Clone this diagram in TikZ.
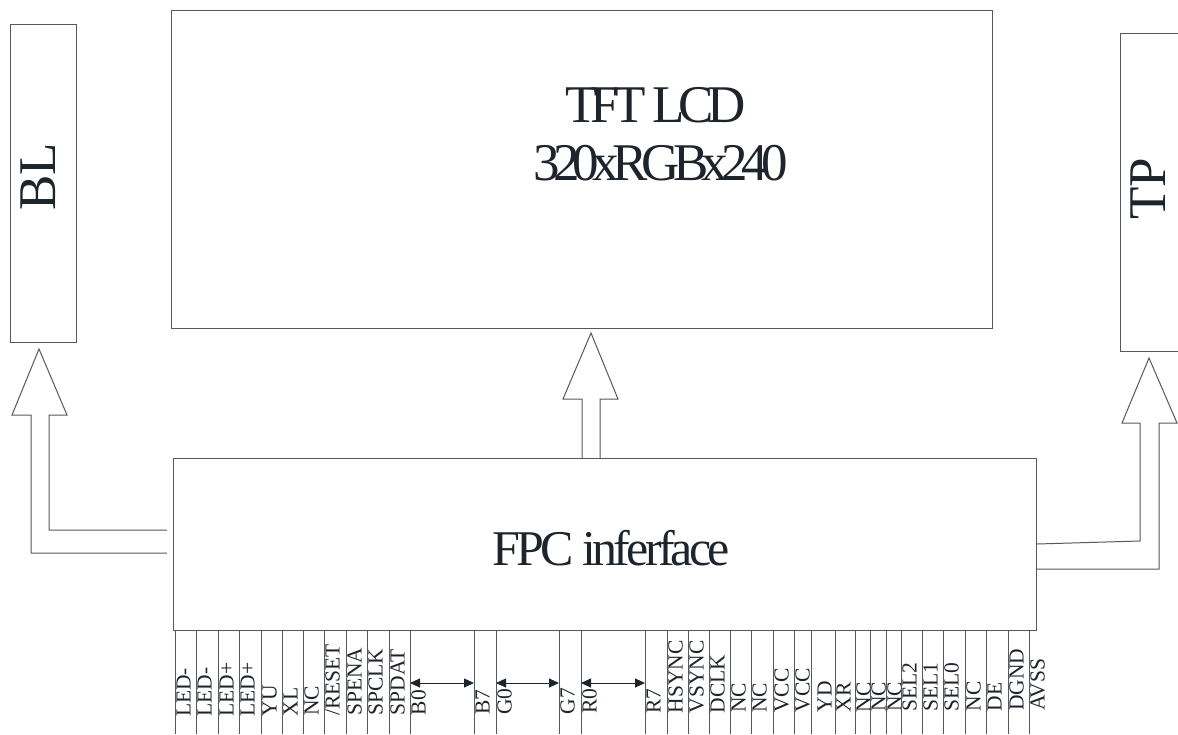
\documentclass[tikz,border=0pt]{standalone}
\usepackage{fontspec}
\setmainfont{Liberation Serif}
\newfontfamily\titlefont{Liberation Serif}[LetterSpace=-12.5]
\newfontfamily\fpcfont{Liberation Serif}[LetterSpace=-7.5]
\usetikzlibrary{arrows.meta,calc}
\definecolor{ink}{RGB}{30,36,44}
\definecolor{edge}{RGB}{85,88,94}
\tikzset{
  box/.style={draw=edge, line width=1pt, rectangle, inner sep=0pt, outer sep=0pt, anchor=north west},
  blockarrow/.style={draw=edge, line width=1pt, line join=miter},
  pinline/.style={draw=edge, line width=1pt},
  pinlabel/.style={text=ink, font=\fontsize{21.5}{24}\selectfont, rotate=90, anchor=base west, inner sep=0pt},
  bigtitle/.style={text=ink, font=\titlefont\fontsize{53}{60}\selectfont, anchor=base west, inner sep=0pt},
  fpctitle/.style={text=ink, font=\fpcfont\fontsize{50}{56}\selectfont, anchor=base west, inner sep=0pt},
  sidetitle/.style={text=ink, font=\fontsize{53}{60}\selectfont, rotate=90, anchor=base, inner sep=0pt},
  span/.style={draw=ink, line width=0.9pt, {Triangle[length=10pt,width=9pt]}-{Triangle[length=10pt,width=9pt]}}
}
\begin{document}
\begin{tikzpicture}[x=1pt,y=-1pt]
\useasboundingbox (0,0) rectangle (1178,734);
% boxes
\node[box, minimum width=66pt, minimum height=318pt] (bl) at (10,24) {};
\node[box, minimum width=821pt, minimum height=318pt] (tft) at (171,10) {};
\node[box, minimum width=70pt, minimum height=318pt] (tp) at (1120,33) {};
\node[box, minimum width=863pt, minimum height=172pt] (fpc) at (173,458) {};
% texts
\node[bigtitle] (tftA) at (565,122) {TFT LCD};
\node[bigtitle] (tftB) at (533,180) {320xRGBx240};
\node[fpctitle] (fpcL) at (492,565) {FPC inferface};
\node[sidetitle] (blL) at (55,176.5) {BL};
\node[sidetitle] (tpL) at (1165,189) {TP};
% block arrows
\draw[blockarrow] (167,530) -- (49,530) -- (49,415) -- (67,415) -- (39,349) -- (12,415) -- (31,415) -- (31,553) -- (167,553);
\draw[blockarrow] (582,0 |- fpc.north) -- (582,399) -- (563,399) -- (591,333) -- (618,399) -- (600,399) -- (600,0 |- fpc.north);
\draw[blockarrow] (1037,544) -- (1140,541) -- (1140,423) -- (1122,423) -- (1149,358) -- (1177,423) -- (1159,423) -- (1159,569) -- (1037,569);
% pins
\foreach \x/\o/\t [count=\i] in {175/0/LED-, 196/0/LED-, 218/0/LED+, 239/0/LED+, 261/0/YU, 282/0/XL, 303/0/NC, 324/0/{/RESET}, 346/0/SPENA, 367/0/SPCLK, 389/0/SPDAT, 410/0/B0, 474/0/B7, 496/0/G0, 559/0/G7, 581/0/R0, 645/0/R7, 667/0/HSYNC, 688/0/VSYNC, 709/0/DCLK, 730/0/NC, 751/0/NC, 773/0/VCC, 794/0/VCC, 811/5/YD, 835/0/XR, 855/0/NC, 870/0/NC, 886/0/NC, 901/0/SEL2, 922/0/SEL1, 943/0/SEL0, 965/0/NC, 986/0/DE, 1008/0/DGND, 1029/0/AVSS} {
  \coordinate (pin\i) at (\x,683);
  \draw[pinline] (\x,0 |- fpc.south) -- (\x,734);
  \pgfmathsetmacro\yb{717-6*(\x-175)/854}
  \node[pinlabel] (lab\i) at (\x+15.5+\o,\yb) {\t};
}
\draw[span] (pin12) -- (pin13);
\draw[span] (pin14) -- (pin15);
\draw[span] (pin16) -- (pin17);
\end{tikzpicture}
\end{document}
